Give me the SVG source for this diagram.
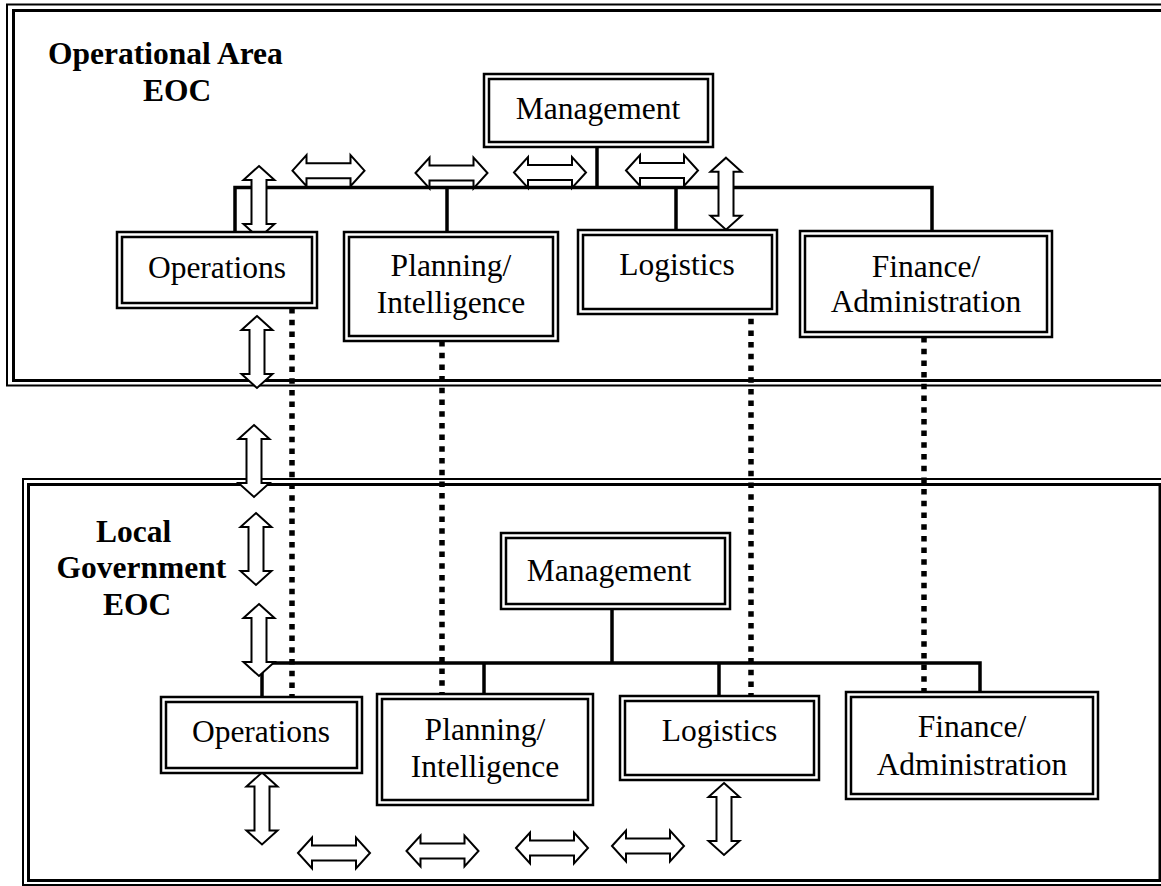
<svg xmlns="http://www.w3.org/2000/svg" xmlns:xlink="http://www.w3.org/1999/xlink" width="1161" height="886" viewBox="0 0 1161 886">
<style>
.frame-o{fill:none;stroke:#000;stroke-width:2}
.frame-i{fill:none;stroke:#000;stroke-width:3}
.box{fill:#fff;stroke:#000;stroke-width:2.5}
.boxi{fill:none;stroke:#000;stroke-width:2.5}
.lbl{font-family:"Liberation Serif","Times New Roman",serif;font-size:31.5px;fill:#000;text-anchor:middle}
.title{font-family:"Liberation Serif","Times New Roman",serif;font-size:31.5px;font-weight:bold;fill:#000}
.bus{fill:none;stroke:#000;stroke-width:3.5}
.dot{fill:none;stroke:#000;stroke-width:5.5;stroke-dasharray:5.5 6.2}
.arr{fill:#fff;stroke:#000;stroke-width:2;stroke-linejoin:miter}
</style>
<defs>
<path id="dbl" d="M-36,0 L-22,-15.5 L-22,-7.5 L22,-7.5 L22,-15.5 L36,0 L22,15.5 L22,7.5 L-22,7.5 L-22,15.5 Z"/>
</defs>
<rect width="1161" height="886" fill="#fff"/>

<g id="frame-operational-area">
<rect class="frame-o" x="7" y="4.5" width="1170" height="381"/>
<rect class="frame-i" x="13.5" y="10.5" width="1160" height="370"/>
<text class="title" x="48" y="64">Operational Area</text>
<text class="title" x="143" y="100.7">EOC</text>
</g>

<g id="frame-local-government">
<rect class="frame-o" x="23" y="479" width="1150" height="406"/>
<rect class="frame-i" x="28.5" y="484.5" width="1131.5" height="396"/>
<text class="title" x="96" y="541.7">Local</text>
<text class="title" x="56.5" y="578">Government</text>
<text class="title" x="103" y="615">EOC</text>
</g>

<g id="connectors">
<path class="bus" d="M235,238 V187.5 H932 V231"/>
<path class="bus" d="M597,147 V187.5"/>
<path class="bus" d="M447,187.5 V237"/>
<path class="bus" d="M676,187.5 V232"/>
<path class="bus" d="M262,705 V663 H980 V697"/>
<path class="bus" d="M612,609 V663"/>
<path class="bus" d="M484,663 V697"/>
<path class="bus" d="M719,663 V701"/>
<path class="dot" d="M292,308 V697"/>
<path class="dot" d="M442,341 V698"/>
<path class="dot" d="M751,307 V695"/>
<path class="dot" d="M924,337 V697"/>
<use xlink:href="#dbl" href="#dbl" class="arr" transform="translate(259,202) rotate(90)"/>
<use xlink:href="#dbl" href="#dbl" class="arr" transform="translate(328.5,170.7)"/>
<use xlink:href="#dbl" href="#dbl" class="arr" transform="translate(451.5,173)"/>
<use xlink:href="#dbl" href="#dbl" class="arr" transform="translate(550,172.5)"/>
<use xlink:href="#dbl" href="#dbl" class="arr" transform="translate(662,170.5)"/>
<use xlink:href="#dbl" href="#dbl" class="arr" transform="translate(726,193.7) rotate(90)"/>
<use xlink:href="#dbl" href="#dbl" class="arr" transform="translate(257,352) rotate(90)"/>
<use xlink:href="#dbl" href="#dbl" class="arr" transform="translate(254,461) rotate(90)"/>
<use xlink:href="#dbl" href="#dbl" class="arr" transform="translate(256,549) rotate(90)"/>
<use xlink:href="#dbl" href="#dbl" class="arr" transform="translate(259,640) rotate(90)"/>
<use xlink:href="#dbl" href="#dbl" class="arr" transform="translate(262,808.5) rotate(90)"/>
<use xlink:href="#dbl" href="#dbl" class="arr" transform="translate(334,853)"/>
<use xlink:href="#dbl" href="#dbl" class="arr" transform="translate(442.5,851)"/>
<use xlink:href="#dbl" href="#dbl" class="arr" transform="translate(552,848)"/>
<use xlink:href="#dbl" href="#dbl" class="arr" transform="translate(648,846)"/>
<use xlink:href="#dbl" href="#dbl" class="arr" transform="translate(724,819) rotate(90)"/>
</g>

<g id="top-management">
<rect class="box" x="484" y="74" width="229" height="73"/>
<rect class="boxi" x="489" y="79" width="219" height="63"/>
<text class="lbl" x="598" y="119">Management</text>
</g>
<g id="top-operations">
<rect class="box" x="117" y="232" width="200" height="76"/>
<rect class="boxi" x="122" y="237" width="190" height="66"/>
<text class="lbl" x="217" y="278">Operations</text>
</g>
<g id="top-planning">
<rect class="box" x="344" y="232" width="214" height="109"/>
<rect class="boxi" x="349" y="237" width="204" height="99"/>
<text class="lbl" x="451" y="276">Planning/</text>
<text class="lbl" x="451" y="313">Intelligence</text>
</g>
<g id="top-logistics">
<rect class="box" x="578" y="230" width="199" height="84"/>
<rect class="boxi" x="583" y="235" width="189" height="74"/>
<text class="lbl" x="677" y="275">Logistics</text>
</g>
<g id="top-finance">
<rect class="box" x="800" y="231" width="252" height="106"/>
<rect class="boxi" x="805" y="236" width="242" height="96"/>
<text class="lbl" x="926" y="277">Finance/</text>
<text class="lbl" x="926" y="312">Administration</text>
</g>

<g id="bottom-management">
<rect class="box" x="501" y="533" width="229" height="76"/>
<rect class="boxi" x="506" y="538" width="219" height="66"/>
<text class="lbl" x="609" y="581">Management</text>
</g>
<g id="bottom-operations">
<rect class="box" x="161" y="697" width="201" height="76"/>
<rect class="boxi" x="166" y="702" width="191" height="66"/>
<text class="lbl" x="261" y="742">Operations</text>
</g>
<g id="bottom-planning">
<rect class="box" x="377" y="694" width="216" height="111"/>
<rect class="boxi" x="382" y="699" width="206" height="101"/>
<text class="lbl" x="485" y="740">Planning/</text>
<text class="lbl" x="485" y="777">Intelligence</text>
</g>
<g id="bottom-logistics">
<rect class="box" x="620" y="696" width="199" height="84"/>
<rect class="boxi" x="625" y="701" width="189" height="74"/>
<text class="lbl" x="719.5" y="741">Logistics</text>
</g>
<g id="bottom-finance">
<rect class="box" x="846" y="692" width="252" height="107"/>
<rect class="boxi" x="851" y="697" width="242" height="97"/>
<text class="lbl" x="972" y="737">Finance/</text>
<text class="lbl" x="972" y="775">Administration</text>
</g>
</svg>
